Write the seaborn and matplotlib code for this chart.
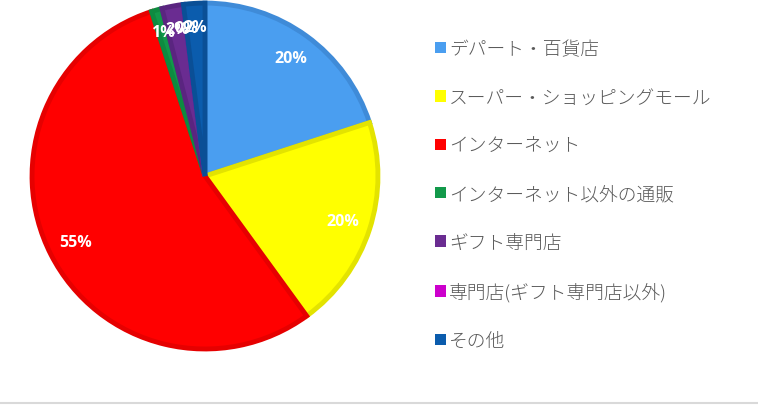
import matplotlib
matplotlib.use("Agg")
import matplotlib.pyplot as plt
import seaborn as sns
from matplotlib.patches import Patch
from matplotlib.lines import Line2D

categories = ["デパート・百貨店", "スーパー・ショッピングモール", "インターネット",
              "インターネット以外の通販", "ギフト専門店", "専門店(ギフト専門店以外)", "その他"]
values = [20, 20, 55, 1, 2, 0, 2]
colors = ["#4A9EF0", "#FFFF00", "#FF0000", "#12994A", "#6A2C91", "#CC00CC", "#0B5CAD"]
edge_colors = ["#3F8BD8", "#E3E300", "#E60000", "#0E8A40", "#5A2580", "#B000B0", "#0A4F96"]

sns.set_theme(style="white")
plt.rcParams['font.family'] = ['Noto Sans CJK JP', 'DejaVu Sans']

fig = plt.figure(figsize=(7.58, 4.06), dpi=100)
ax = fig.add_axes([0.0422, 0.138, 0.4565, 0.852])

wedges, texts, autotexts = ax.pie(
    values, colors=colors, startangle=90, counterclock=False,
    autopct=lambda p: f"{p:.0f}%", pctdistance=0.84,
    wedgeprops=dict(linewidth=3.5),
    textprops=dict(color="white", fontsize=11.5, fontweight="bold",
                   family=["Open Sans", "DejaVu Sans"]))
for w, ec in zip(wedges, edge_colors):
    w.set_edgecolor(ec)
for t, v in zip(autotexts, values):
    if v <= 2:
        x, y = t.get_position()
        t.set_position((x * 1.03, y * 1.03))
ax.set_aspect("equal")
ax.set_xlim(-1.0, 1.0)
ax.set_ylim(-1.0, 1.0)
ax.axis("off")

handles = [Patch(facecolor=c, edgecolor="none") for c in colors]
leg = fig.legend(handles, categories, loc="upper left", bbox_to_anchor=(0.552, 0.94),
                 frameon=False, handlelength=0.55, handleheight=0.55, handletextpad=0.2,
                 labelspacing=1.62, prop=dict(size=13.5, weight="light"))
for t in leg.get_texts():
    t.set_color("#595959")

fig.add_artist(Line2D([0, 1], [0.004, 0.004], transform=fig.transFigure,
                      color="#D9D9D9", linewidth=1.5))

fig.savefig("out.png", dpi=100)
